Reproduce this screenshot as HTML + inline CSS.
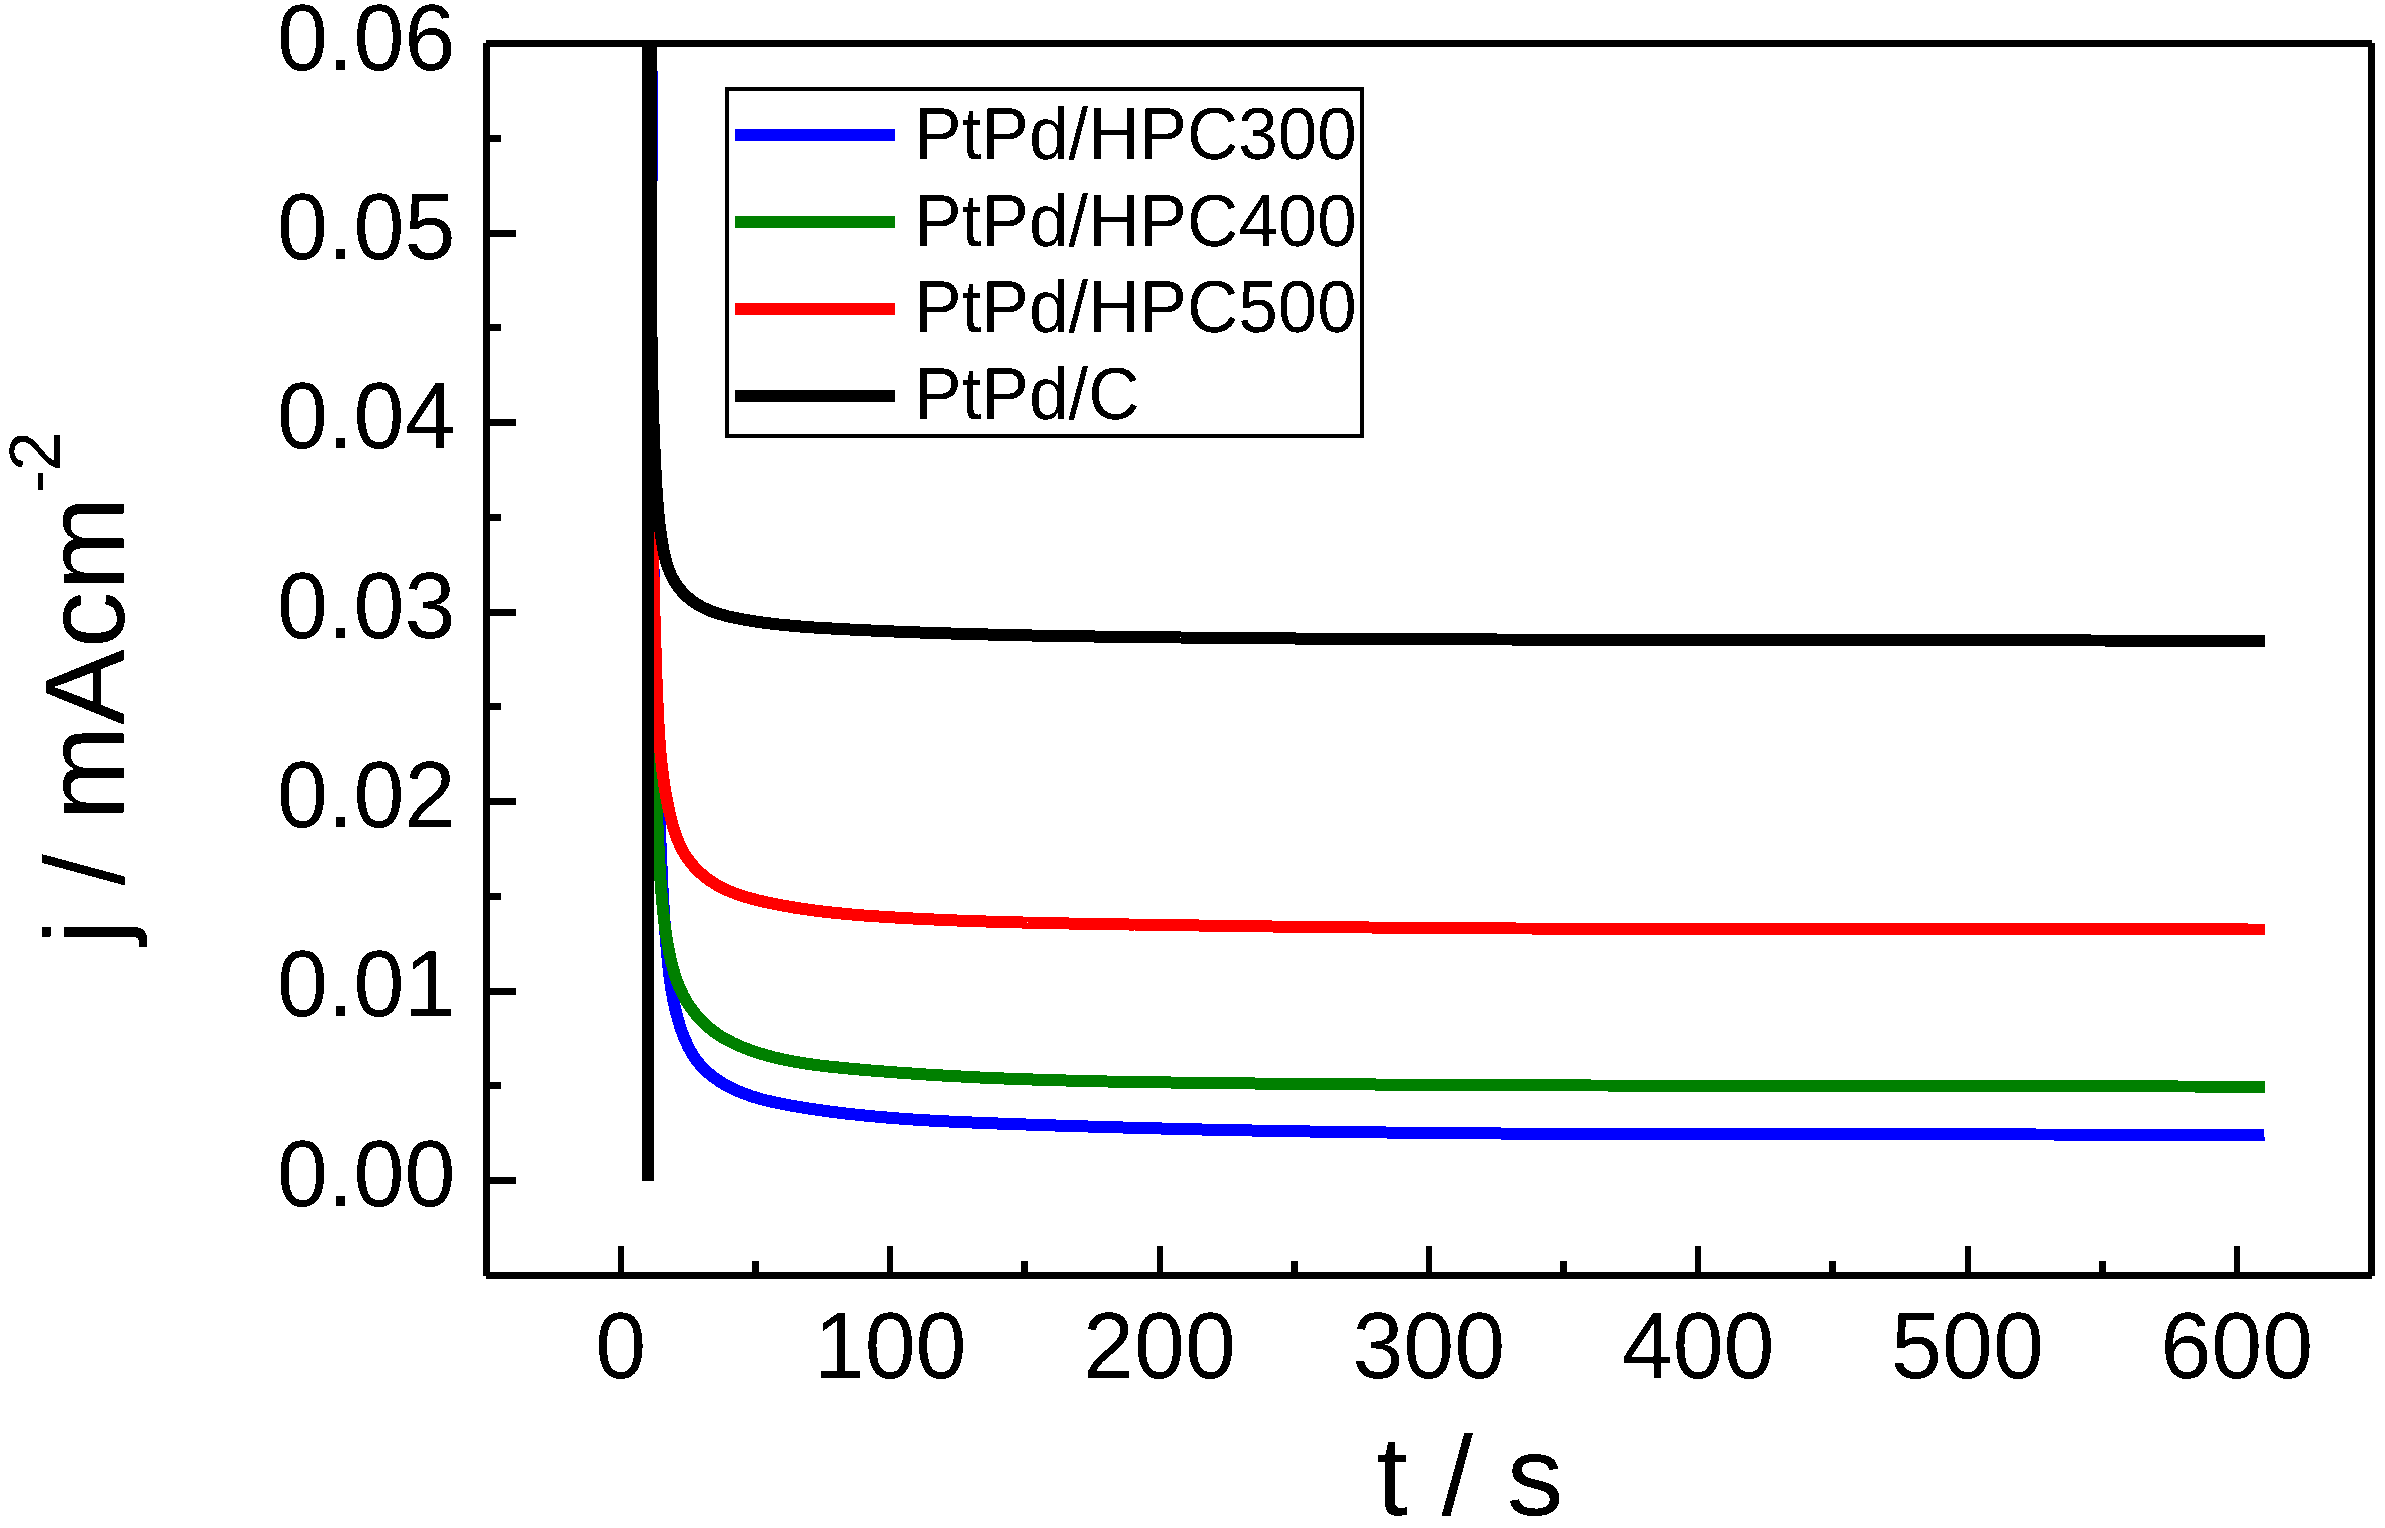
<!DOCTYPE html>
<html lang="en">
<head>
<meta charset="utf-8">
<title>Chronoamperometry curves</title>
<style>html,body{margin:0;padding:0;background:#fff}body{width:2385px;height:1528px;overflow:hidden}</style>
</head>
<body>
<svg width="2385" height="1528" viewBox="0 0 2385 1528" style="display:block" shape-rendering="crispEdges">
<rect width="2385" height="1528" fill="#fff"/>
<defs><clipPath id="plot"><rect x="490" y="40" width="1878" height="1232"/></clipPath><filter id="bw" x="-5%" y="-5%" width="110%" height="110%" color-interpolation-filters="sRGB"><feComponentTransfer><feFuncA type="discrete" tableValues="0 1"/></feComponentTransfer></filter></defs>
<g clip-path="url(#plot)" fill="none" stroke-width="12" stroke-linejoin="round" stroke-linecap="butt">
<path d="M650.4,30.0 L650.4,32.6 L650.4,35.2 L650.4,37.8 L650.4,40.4 L650.4,43.0 L650.4,45.6 L650.4,47.6 L650.4,48.2 L650.4,50.8 L650.4,53.4 L650.4,56.0 L650.4,58.6 L650.4,61.3 L650.4,63.9 L650.4,65.1 L650.4,66.5 L650.5,69.1 L650.5,71.7 L650.5,74.3 L650.5,76.9 L650.5,79.5 L650.5,82.1 L650.5,82.7 L650.5,84.7 L650.5,87.3 L650.5,89.9 L650.5,92.5 L650.5,95.1 L650.5,97.7 L650.5,100.2 L650.5,100.3 L650.5,102.9 L650.5,105.5 L650.5,108.1 L650.5,110.7 L650.5,113.3 L650.5,115.9 L650.5,117.8 L650.5,118.5 L650.5,121.1 L650.5,123.7 L650.5,126.3 L650.5,129.0 L650.5,131.6 L650.5,134.2 L650.5,135.4 L650.5,136.8 L650.5,139.4 L650.5,142.0 L650.5,144.6 L650.5,147.2 L650.5,149.8 L650.5,152.4 L650.5,152.9 L650.5,155.0 L650.5,157.6 L650.5,160.2 L650.5,162.8 L650.5,165.4 L650.5,168.0 L650.5,170.5 L650.5,170.6 L650.5,173.2 L650.5,175.8 L650.5,178.4 L650.6,181.0 L650.6,183.7 L650.6,186.3 L650.6,188.1 L650.6,188.9 L650.6,191.5 L650.6,194.1 L650.6,196.7 L650.6,199.3 L650.6,201.9 L650.6,204.5 L650.6,205.6 L650.6,207.1 L650.6,209.7 L650.6,212.3 L650.6,214.9 L650.6,217.5 L650.6,220.1 L650.6,222.7 L650.6,223.2 L650.6,225.3 L650.6,227.9 L650.7,230.5 L650.7,233.1 L650.7,235.8 L650.7,238.4 L650.7,240.8 L650.7,241.0 L650.7,243.6 L650.7,246.2 L650.7,248.8 L650.7,251.4 L650.7,254.0 L650.7,256.6 L650.7,258.3 L650.7,259.2 L650.7,261.8 L650.8,264.4 L650.8,267.0 L650.8,269.6 L650.8,272.2 L650.8,274.8 L650.8,275.9 L650.8,277.4 L650.8,280.0 L650.8,282.7 L650.8,285.3 L650.8,287.9 L650.8,290.5 L650.9,293.1 L650.9,293.5 L650.9,295.7 L650.9,298.3 L650.9,300.9 L650.9,303.5 L650.9,306.1 L650.9,308.7 L650.9,311.1 L650.9,311.3 L651.0,313.9 L651.0,316.5 L651.0,319.1 L651.0,321.7 L651.0,324.3 L651.0,327.0 L651.0,328.6 L651.0,329.6 L651.0,332.2 L651.1,334.8 L651.1,337.4 L651.1,340.0 L651.1,342.6 L651.1,345.2 L651.1,346.2 L651.1,347.8 L651.1,350.4 L651.2,353.0 L651.2,355.6 L651.2,358.2 L651.2,360.8 L651.2,363.4 L651.2,363.8 L651.2,366.0 L651.3,368.6 L651.3,371.3 L651.3,373.9 L651.3,376.5 L651.3,379.1 L651.3,381.4 L651.4,381.7 L651.4,384.3 L651.4,386.9 L651.4,389.5 L651.4,392.1 L651.4,394.7 L651.5,397.3 L651.5,398.9 L651.5,399.9 L651.5,402.5 L651.5,405.1 L651.5,407.7 L651.6,410.3 L651.6,413.0 L651.6,415.6 L651.6,416.5 L651.6,418.2 L651.7,420.8 L651.7,423.4 L651.7,426.0 L651.7,428.6 L651.8,431.2 L651.8,433.8 L651.8,434.1 L651.8,436.4 L651.8,439.0 L651.8,441.6 L651.9,444.2 L651.9,446.8 L651.9,449.4 L651.9,451.7 L652.0,452.0 L652.0,454.6 L652.0,457.3 L652.0,459.9 L652.1,462.5 L652.1,465.1 L652.1,467.7 L652.1,469.2 L652.1,470.3 L652.2,472.9 L652.2,475.5 L652.2,478.1 L652.3,480.7 L652.3,483.3 L652.3,485.9 L652.3,486.8 L652.4,488.5 L652.4,491.1 L652.4,493.7 L652.4,496.3 L652.5,498.9 L652.5,501.6 L652.5,504.2 L652.5,504.4 L652.6,506.8 L652.6,509.4 L652.6,512.0 L652.7,514.6 L652.7,517.2 L652.7,519.8 L652.8,521.9 L652.8,522.4 L652.8,525.0 L652.9,527.6 L652.9,530.2 L652.9,532.8 L653.0,535.4 L653.0,538.0 L653.0,539.5 L653.0,540.6 L653.1,543.2 L653.1,545.8 L653.2,548.5 L653.2,551.1 L653.2,553.7 L653.3,556.3 L653.3,557.1 L653.3,558.9 L653.4,561.5 L653.4,564.1 L653.4,566.7 L653.5,569.3 L653.5,571.9 L653.6,574.5 L653.6,574.7 L653.6,577.1 L653.7,579.7 L653.7,582.3 L653.7,584.9 L653.8,587.5 L653.8,590.1 L653.9,592.2 L653.9,592.7 L653.9,595.3 L654.0,598.0 L654.0,600.6 L654.1,603.2 L654.1,605.8 L654.2,608.4 L654.2,609.8 L654.2,611.0 L654.3,613.6 L654.3,616.2 L654.4,618.8 L654.4,621.4 L654.5,624.0 L654.5,626.6 L654.5,627.4 L654.6,629.2 L654.6,631.8 L654.7,634.4 L654.7,637.0 L654.8,639.6 L654.8,642.2 L654.9,644.8 L654.9,644.9 L654.9,647.4 L655.0,650.0 L655.1,652.7 L655.1,655.3 L655.2,657.9 L655.2,660.5 L655.3,662.5 L655.3,663.1 L655.3,665.7 L655.4,668.3 L655.5,670.9 L655.5,673.5 L655.6,676.1 L655.6,678.7 L655.7,680.1 L655.7,681.3 L655.8,683.9 L655.8,686.5 L655.9,689.1 L655.9,691.7 L656.0,694.3 L656.1,696.9 L656.1,697.6 L656.1,699.5 L656.2,702.1 L656.3,704.7 L656.3,707.3 L656.4,709.9 L656.5,712.5 L656.5,715.1 L656.5,715.2 L656.6,717.8 L656.7,720.4 L656.7,723.0 L656.8,725.6 L656.9,728.2 L657.0,730.8 L657.0,732.7 L657.0,733.4 L657.1,736.0 L657.2,738.6 L657.2,741.2 L657.3,743.8 L657.4,746.4 L657.5,749.0 L657.5,750.3 L657.5,751.6 L657.6,754.2 L657.7,756.8 L657.8,759.4 L657.8,762.0 L657.9,764.6 L658.0,767.2 L658.0,767.8 L658.1,769.8 L658.2,772.4 L658.2,775.0 L658.3,777.6 L658.4,780.2 L658.5,782.8 L658.6,785.4 L658.6,785.4 L658.6,788.0 L658.7,790.6 L658.8,793.2 L658.9,795.8 L659.0,798.4 L659.1,801.0 L659.1,802.9 L659.1,803.6 L659.2,806.3 L659.3,808.9 L659.4,811.5 L659.5,814.1 L659.6,816.7 L659.7,819.3 L659.7,820.5 L659.8,821.9 L659.9,824.5 L659.9,827.1 L660.0,829.7 L660.1,832.3 L660.2,834.9 L660.3,837.5 L660.3,838.0 L660.4,840.1 L660.5,842.7 L660.6,845.3 L660.7,847.9 L660.8,850.5 L660.9,853.1 L661.0,855.6 L661.0,855.7 L661.1,858.3 L661.2,860.9 L661.3,863.5 L661.5,866.1 L661.6,868.7 L661.7,871.3 L661.8,873.1 L661.8,873.9 L661.9,876.5 L662.1,879.1 L662.2,881.7 L662.3,884.3 L662.4,886.9 L662.6,889.5 L662.6,890.7 L662.7,892.1 L662.9,894.7 L663.0,897.3 L663.1,899.9 L663.3,902.5 L663.5,905.1 L663.6,907.7 L663.6,908.2 L663.8,910.3 L663.9,912.9 L664.1,915.5 L664.3,918.1 L664.5,920.7 L664.6,923.3 L664.8,925.7 L664.8,925.9 L665.0,928.5 L665.2,931.1 L665.4,933.7 L665.6,936.3 L665.8,938.9 L666.0,941.5 L666.2,943.3 L666.3,944.1 L666.5,946.7 L666.7,949.3 L666.9,951.9 L667.2,954.5 L667.4,957.1 L667.7,959.7 L667.8,960.8 L667.9,962.3 L668.2,964.9 L668.5,967.5 L668.8,970.1 L669.1,972.7 L669.4,975.3 L669.7,977.9 L669.8,978.3 L670.1,980.5 L670.4,983.1 L670.8,985.6 L671.2,988.2 L671.6,990.8 L672.1,993.3 L672.5,995.7 L672.5,995.9 L673.0,998.5 L673.5,1001.0 L674.0,1003.6 L674.6,1006.1 L675.2,1008.6 L675.8,1011.2 L676.2,1012.8 L676.4,1013.7 L677.1,1016.2 L677.8,1018.7 L678.5,1021.2 L679.3,1023.7 L680.0,1026.2 L680.9,1028.7 L681.2,1029.7 L681.7,1031.1 L682.6,1033.6 L683.6,1036.0 L684.5,1038.5 L685.6,1040.9 L686.6,1043.2 L687.7,1045.6 L687.9,1045.9 L688.9,1047.9 L690.1,1050.2 L691.4,1052.5 L692.7,1054.7 L694.1,1056.8 L695.6,1059.0 L696.9,1060.8 L697.1,1061.1 L698.7,1063.1 L700.4,1065.1 L702.1,1067.0 L703.9,1068.8 L705.8,1070.6 L707.7,1072.4 L708.9,1073.5 L709.7,1074.1 L711.7,1075.7 L713.8,1077.3 L715.9,1078.8 L718.0,1080.3 L720.2,1081.8 L722.5,1083.1 L723.3,1083.6 L724.7,1084.5 L727.0,1085.7 L729.3,1087.0 L731.6,1088.1 L734.0,1089.3 L736.3,1090.4 L738.7,1091.4 L739.0,1091.5 L741.1,1092.4 L743.5,1093.3 L745.9,1094.3 L748.4,1095.1 L750.8,1096.0 L753.3,1096.8 L755.4,1097.4 L755.8,1097.5 L758.3,1098.3 L760.8,1099.0 L763.3,1099.7 L765.8,1100.3 L768.3,1100.9 L770.9,1101.5 L772.4,1101.9 L773.4,1102.1 L776.0,1102.7 L778.5,1103.2 L781.1,1103.7 L783.7,1104.2 L786.2,1104.7 L788.8,1105.2 L789.7,1105.4 L791.4,1105.7 L794.0,1106.1 L796.5,1106.5 L799.1,1107.0 L801.7,1107.4 L804.3,1107.8 L806.9,1108.2 L807.1,1108.3 L809.5,1108.6 L812.0,1109.0 L814.6,1109.4 L817.2,1109.8 L819.8,1110.2 L822.4,1110.5 L824.5,1110.8 L825.0,1110.9 L827.5,1111.2 L830.1,1111.6 L832.7,1111.9 L835.3,1112.2 L837.9,1112.6 L840.5,1112.9 L842.0,1113.1 L843.1,1113.2 L845.7,1113.5 L848.2,1113.8 L850.8,1114.1 L853.4,1114.4 L856.0,1114.6 L858.6,1114.9 L859.4,1115.0 L861.2,1115.2 L863.8,1115.4 L866.4,1115.7 L869.0,1116.0 L871.6,1116.2 L874.2,1116.4 L876.8,1116.7 L876.9,1116.7 L879.3,1116.9 L881.9,1117.1 L884.5,1117.3 L887.1,1117.6 L889.7,1117.8 L892.3,1118.0 L894.4,1118.1 L894.9,1118.2 L897.5,1118.4 L900.1,1118.6 L902.7,1118.8 L905.3,1118.9 L907.9,1119.1 L910.5,1119.3 L912.0,1119.4 L913.1,1119.5 L915.7,1119.6 L918.3,1119.8 L920.9,1120.0 L923.5,1120.1 L926.1,1120.3 L928.7,1120.4 L929.5,1120.5 L931.3,1120.6 L933.9,1120.7 L936.5,1120.8 L939.1,1121.0 L941.7,1121.1 L944.3,1121.2 L946.9,1121.4 L947.0,1121.4 L964.6,1122.2 L982.1,1122.9 L999.7,1123.6 L1017.2,1124.2 L1034.8,1124.8 L1052.3,1125.4 L1069.9,1126.0 L1087.4,1126.5 L1105.0,1127.0 L1122.6,1127.5 L1140.1,1128.0 L1157.7,1128.4 L1175.2,1128.9 L1192.8,1129.3 L1210.4,1129.7 L1227.9,1130.0 L1245.5,1130.4 L1263.1,1130.7 L1280.6,1131.0 L1298.2,1131.3 L1315.7,1131.6 L1333.3,1131.8 L1350.9,1132.0 L1368.4,1132.3 L1386.0,1132.5 L1403.6,1132.7 L1421.2,1132.8 L1438.7,1133.0 L1456.3,1133.2 L1473.9,1133.3 L1491.4,1133.4 L1509.0,1133.6 L1526.6,1133.7 L1544.1,1133.8 L1561.7,1133.8 L1579.3,1133.9 L1596.9,1134.0 L1614.4,1134.0 L1632.0,1134.1 L1649.6,1134.1 L1667.1,1134.2 L1684.7,1134.2 L1702.3,1134.2 L1719.9,1134.3 L1737.4,1134.3 L1755.0,1134.3 L1772.6,1134.3 L1790.2,1134.3 L1807.7,1134.3 L1825.3,1134.3 L1842.9,1134.3 L1860.4,1134.3 L1878.0,1134.3 L1895.6,1134.4 L1913.2,1134.4 L1930.7,1134.4 L1948.3,1134.4 L1965.9,1134.4 L1983.4,1134.4 L2001.0,1134.4 L2018.6,1134.4 L2036.1,1134.5 L2053.7,1134.5 L2071.3,1134.5 L2088.8,1134.6 L2106.4,1134.6 L2124.0,1134.7 L2141.5,1134.8 L2159.1,1134.9 L2176.7,1134.9 L2194.2,1135.0 L2211.8,1135.1 L2229.4,1135.3 L2246.9,1135.4 L2264.5,1135.3" stroke="#0000ff"/>
<path d="M650.5,30.0 L650.5,32.6 L650.5,35.2 L650.5,37.8 L650.5,40.4 L650.4,43.0 L650.4,45.7 L650.4,47.3 L650.4,48.3 L650.4,50.9 L650.4,53.5 L650.4,56.1 L650.4,58.7 L650.4,61.3 L650.4,63.9 L650.4,64.6 L650.4,66.5 L650.4,69.1 L650.3,71.7 L650.3,74.3 L650.3,76.9 L650.3,79.6 L650.3,81.9 L650.3,82.2 L650.3,84.8 L650.3,87.4 L650.3,90.0 L650.3,92.6 L650.3,95.2 L650.3,97.8 L650.3,99.2 L650.3,100.4 L650.2,103.0 L650.2,105.6 L650.2,108.2 L650.2,110.8 L650.2,113.4 L650.2,116.1 L650.2,116.5 L650.2,118.7 L650.2,121.3 L650.2,123.9 L650.2,126.5 L650.2,129.1 L650.2,131.7 L650.2,133.7 L650.2,134.3 L650.2,136.9 L650.2,139.5 L650.2,142.1 L650.2,144.7 L650.1,147.3 L650.1,149.9 L650.1,151.0 L650.1,152.5 L650.1,155.1 L650.1,157.8 L650.1,160.4 L650.1,163.0 L650.1,165.6 L650.1,168.2 L650.1,168.3 L650.1,170.8 L650.1,173.4 L650.1,176.0 L650.1,178.6 L650.1,181.2 L650.1,183.8 L650.1,185.6 L650.1,186.4 L650.1,189.0 L650.1,191.6 L650.1,194.2 L650.1,196.8 L650.1,199.4 L650.1,202.0 L650.1,202.9 L650.1,204.7 L650.1,207.3 L650.1,209.9 L650.1,212.5 L650.1,215.1 L650.1,217.7 L650.1,220.1 L650.1,220.3 L650.1,222.9 L650.1,225.5 L650.1,228.1 L650.1,230.7 L650.1,233.3 L650.1,235.9 L650.1,237.4 L650.1,238.5 L650.1,241.1 L650.1,243.7 L650.1,246.3 L650.1,248.9 L650.1,251.5 L650.1,254.1 L650.1,254.7 L650.1,256.7 L650.1,259.3 L650.1,262.0 L650.1,264.6 L650.1,267.2 L650.1,269.8 L650.1,271.9 L650.1,272.4 L650.1,275.0 L650.1,277.6 L650.1,280.2 L650.1,282.8 L650.1,285.4 L650.1,288.0 L650.1,289.2 L650.1,290.6 L650.1,293.2 L650.1,295.8 L650.1,298.4 L650.2,301.0 L650.2,303.6 L650.2,306.2 L650.2,306.5 L650.2,308.8 L650.2,311.4 L650.2,314.0 L650.2,316.6 L650.2,319.2 L650.2,321.8 L650.2,323.7 L650.2,324.4 L650.2,327.1 L650.2,329.7 L650.2,332.3 L650.2,334.9 L650.3,337.5 L650.3,340.1 L650.3,341.0 L650.3,342.7 L650.3,345.3 L650.3,347.9 L650.3,350.5 L650.3,353.1 L650.3,355.7 L650.3,358.3 L650.3,358.3 L650.3,360.9 L650.4,363.5 L650.4,366.1 L650.4,368.7 L650.4,371.3 L650.4,373.9 L650.4,375.5 L650.4,376.5 L650.4,379.1 L650.4,381.7 L650.4,384.3 L650.5,386.9 L650.5,389.5 L650.5,392.1 L650.5,392.8 L650.5,394.7 L650.5,397.3 L650.5,400.0 L650.5,402.6 L650.6,405.2 L650.6,407.8 L650.6,410.1 L650.6,410.4 L650.6,413.0 L650.6,415.6 L650.6,418.2 L650.6,420.8 L650.7,423.4 L650.7,426.0 L650.7,427.3 L650.7,428.6 L650.7,431.2 L650.7,433.8 L650.7,436.4 L650.8,439.0 L650.8,441.6 L650.8,444.2 L650.8,444.6 L650.8,446.8 L650.8,449.4 L650.9,452.0 L650.9,454.6 L650.9,457.2 L650.9,459.8 L650.9,461.9 L650.9,462.4 L651.0,465.0 L651.0,467.7 L651.0,470.3 L651.0,472.9 L651.0,475.5 L651.1,478.1 L651.1,479.1 L651.1,480.7 L651.1,483.3 L651.1,485.9 L651.2,488.5 L651.2,491.1 L651.2,493.7 L651.2,496.3 L651.2,496.4 L651.3,498.9 L651.3,501.5 L651.3,504.1 L651.3,506.7 L651.4,509.3 L651.4,511.9 L651.4,513.7 L651.4,514.5 L651.4,517.1 L651.5,519.7 L651.5,522.3 L651.5,524.9 L651.5,527.5 L651.6,530.2 L651.6,530.9 L651.6,532.8 L651.6,535.4 L651.6,538.0 L651.7,540.6 L651.7,543.2 L651.7,545.8 L651.8,548.2 L651.8,548.4 L651.8,551.0 L651.8,553.6 L651.9,556.2 L651.9,558.8 L651.9,561.4 L651.9,564.0 L652.0,565.5 L652.0,566.6 L652.0,569.2 L652.0,571.8 L652.1,574.4 L652.1,577.0 L652.1,579.6 L652.2,582.2 L652.2,582.7 L652.2,584.9 L652.2,587.5 L652.3,590.1 L652.3,592.7 L652.3,595.3 L652.4,597.9 L652.4,600.0 L652.4,600.5 L652.5,603.1 L652.5,605.7 L652.5,608.3 L652.6,610.9 L652.6,613.5 L652.6,616.1 L652.7,617.3 L652.7,618.7 L652.7,621.3 L652.8,623.9 L652.8,626.5 L652.8,629.2 L652.9,631.8 L652.9,634.4 L652.9,634.6 L653.0,637.0 L653.0,639.6 L653.0,642.2 L653.1,644.8 L653.1,647.4 L653.2,650.0 L653.2,651.9 L653.2,652.6 L653.2,655.2 L653.3,657.8 L653.3,660.4 L653.4,663.0 L653.4,665.6 L653.5,668.2 L653.5,669.1 L653.5,670.9 L653.6,673.5 L653.6,676.1 L653.6,678.7 L653.7,681.3 L653.7,683.9 L653.8,686.4 L653.8,686.5 L653.8,689.1 L653.9,691.7 L653.9,694.3 L654.0,696.9 L654.0,699.5 L654.1,702.1 L654.1,703.7 L654.1,704.8 L654.2,707.4 L654.2,710.0 L654.3,712.6 L654.3,715.2 L654.4,717.8 L654.4,720.4 L654.4,721.0 L654.5,723.0 L654.5,725.6 L654.6,728.2 L654.6,730.8 L654.7,733.4 L654.8,736.0 L654.8,738.3 L654.8,738.7 L654.9,741.3 L654.9,743.9 L655.0,746.5 L655.1,749.1 L655.1,751.7 L655.2,754.3 L655.2,755.6 L655.3,756.9 L655.3,759.5 L655.4,762.1 L655.5,764.7 L655.5,767.3 L655.6,769.9 L655.7,772.5 L655.7,772.9 L655.7,775.2 L655.8,777.8 L655.9,780.4 L656.0,783.0 L656.1,785.6 L656.1,788.2 L656.2,790.2 L656.2,790.8 L656.3,793.4 L656.4,796.0 L656.5,798.6 L656.6,801.2 L656.7,803.8 L656.8,806.4 L656.8,807.4 L656.9,809.0 L657.0,811.6 L657.1,814.2 L657.2,816.8 L657.3,819.4 L657.4,822.0 L657.5,824.6 L657.5,824.7 L657.6,827.2 L657.7,829.8 L657.8,832.4 L658.0,835.0 L658.1,837.6 L658.2,840.2 L658.3,841.9 L658.3,842.8 L658.5,845.4 L658.6,848.0 L658.7,850.6 L658.9,853.2 L659.0,855.8 L659.2,858.4 L659.2,859.1 L659.3,860.9 L659.5,863.5 L659.6,866.1 L659.8,868.7 L659.9,871.3 L660.1,873.9 L660.2,876.3 L660.2,876.5 L660.4,879.1 L660.6,881.7 L660.8,884.3 L661.0,886.8 L661.2,889.4 L661.4,892.0 L661.5,893.4 L661.6,894.6 L661.8,897.2 L662.0,899.8 L662.3,902.4 L662.5,905.0 L662.8,907.6 L663.0,910.1 L663.1,910.6 L663.3,912.7 L663.6,915.3 L663.9,917.9 L664.2,920.5 L664.5,923.1 L664.9,925.7 L665.1,927.8 L665.2,928.3 L665.6,930.9 L665.9,933.5 L666.3,936.0 L666.7,938.6 L667.2,941.2 L667.6,943.8 L667.8,945.0 L668.1,946.4 L668.5,949.0 L669.0,951.6 L669.6,954.2 L670.1,956.8 L670.7,959.3 L671.3,961.9 L671.3,962.1 L671.9,964.4 L672.6,967.0 L673.3,969.5 L674.0,972.0 L674.8,974.5 L675.6,977.0 L676.2,978.7 L676.4,979.5 L677.3,981.9 L678.3,984.3 L679.2,986.7 L680.3,989.1 L681.3,991.5 L682.5,993.8 L682.8,994.6 L683.6,996.1 L684.9,998.4 L686.1,1000.6 L687.5,1002.8 L688.9,1005.0 L690.3,1007.1 L691.8,1009.2 L691.8,1009.2 L693.4,1011.3 L695.0,1013.4 L696.6,1015.3 L698.3,1017.3 L700.0,1019.2 L701.8,1021.1 L702.9,1022.2 L703.7,1022.9 L705.5,1024.7 L707.5,1026.4 L709.4,1028.1 L711.4,1029.7 L713.5,1031.3 L715.6,1032.8 L716.1,1033.1 L717.7,1034.3 L719.9,1035.7 L722.1,1037.1 L724.4,1038.4 L726.6,1039.7 L728.9,1040.9 L730.9,1041.9 L731.3,1042.1 L733.6,1043.3 L736.0,1044.4 L738.4,1045.5 L740.8,1046.5 L743.2,1047.5 L745.7,1048.5 L746.9,1048.9 L748.1,1049.4 L750.6,1050.3 L753.1,1051.2 L755.6,1052.0 L758.0,1052.8 L760.5,1053.6 L763.0,1054.3 L763.3,1054.4 L765.5,1055.1 L768.0,1055.8 L770.6,1056.4 L773.1,1057.1 L775.6,1057.7 L778.1,1058.3 L780.0,1058.8 L780.7,1058.9 L783.2,1059.5 L785.7,1060.0 L788.3,1060.5 L790.8,1061.0 L793.4,1061.5 L796.0,1062.0 L796.9,1062.1 L798.5,1062.4 L801.1,1062.8 L803.7,1063.2 L806.2,1063.6 L808.8,1064.0 L811.4,1064.4 L814.0,1064.7 L814.0,1064.7 L816.5,1065.1 L819.1,1065.4 L821.7,1065.7 L824.3,1066.0 L826.9,1066.3 L829.5,1066.6 L831.1,1066.8 L832.1,1066.9 L834.7,1067.2 L837.3,1067.4 L839.9,1067.7 L842.5,1067.9 L845.1,1068.2 L847.6,1068.4 L848.4,1068.5 L850.2,1068.7 L852.8,1068.9 L855.4,1069.1 L858.0,1069.4 L860.6,1069.6 L863.2,1069.8 L865.6,1070.0 L865.8,1070.0 L868.4,1070.3 L871.0,1070.5 L873.6,1070.7 L876.2,1070.9 L878.8,1071.1 L881.4,1071.3 L882.8,1071.4 L884.0,1071.5 L886.6,1071.7 L889.2,1071.9 L891.8,1072.1 L894.4,1072.3 L897.0,1072.5 L899.6,1072.7 L900.0,1072.7 L902.2,1072.9 L904.8,1073.1 L907.4,1073.3 L910.0,1073.4 L912.6,1073.6 L915.2,1073.8 L917.3,1073.9 L917.8,1074.0 L920.4,1074.1 L923.0,1074.3 L925.6,1074.5 L928.2,1074.6 L930.8,1074.8 L933.4,1075.0 L934.5,1075.0 L936.0,1075.1 L938.6,1075.3 L941.2,1075.4 L943.8,1075.6 L946.4,1075.7 L949.0,1075.9 L951.6,1076.0 L951.8,1076.0 L954.2,1076.2 L956.8,1076.3 L959.4,1076.4 L962.0,1076.6 L964.6,1076.7 L967.2,1076.8 L969.0,1076.9 L969.8,1077.0 L972.4,1077.1 L975.0,1077.2 L977.6,1077.3 L980.2,1077.5 L982.9,1077.6 L985.5,1077.7 L986.3,1077.7 L988.1,1077.8 L990.7,1077.9 L1003.5,1078.5 L1020.8,1079.1 L1038.1,1079.7 L1055.3,1080.2 L1072.6,1080.7 L1089.8,1081.1 L1107.1,1081.5 L1124.4,1081.8 L1141.7,1082.1 L1158.9,1082.3 L1176.2,1082.6 L1193.5,1082.8 L1210.7,1083.0 L1228.0,1083.2 L1245.3,1083.4 L1262.6,1083.6 L1279.8,1083.7 L1297.1,1083.9 L1314.4,1084.0 L1331.7,1084.2 L1348.9,1084.3 L1366.2,1084.4 L1383.5,1084.6 L1400.7,1084.7 L1418.0,1084.8 L1435.3,1084.9 L1452.6,1085.0 L1469.8,1085.0 L1487.1,1085.1 L1504.4,1085.2 L1521.7,1085.3 L1538.9,1085.3 L1556.2,1085.4 L1573.5,1085.4 L1590.8,1085.5 L1608.0,1085.5 L1625.3,1085.6 L1642.6,1085.6 L1659.9,1085.6 L1677.2,1085.7 L1694.4,1085.7 L1711.7,1085.7 L1729.0,1085.7 L1746.3,1085.8 L1763.5,1085.8 L1780.8,1085.8 L1798.1,1085.8 L1815.4,1085.8 L1832.6,1085.8 L1849.9,1085.9 L1867.2,1085.9 L1884.5,1085.9 L1901.7,1085.9 L1919.0,1085.9 L1936.3,1085.9 L1953.6,1086.0 L1970.8,1086.0 L1988.1,1086.0 L2005.4,1086.0 L2022.7,1086.1 L2039.9,1086.1 L2057.2,1086.1 L2074.5,1086.2 L2091.8,1086.2 L2109.0,1086.2 L2126.3,1086.3 L2143.6,1086.3 L2160.9,1086.4 L2178.1,1086.5 L2195.4,1086.5 L2212.7,1086.6 L2230.0,1086.7 L2247.2,1086.8 L2264.5,1086.8" stroke="#008000"/>
<path d="M650.5,30.0 L650.5,32.6 L650.5,35.2 L650.5,37.8 L650.5,40.4 L650.5,43.0 L650.5,45.6 L650.5,46.3 L650.6,48.2 L650.6,50.8 L650.6,53.4 L650.6,56.0 L650.6,58.6 L650.6,61.2 L650.6,62.5 L650.6,63.9 L650.6,66.5 L650.6,69.1 L650.6,71.7 L650.7,74.3 L650.7,76.9 L650.7,78.8 L650.7,79.5 L650.7,82.1 L650.7,84.7 L650.7,87.3 L650.7,89.9 L650.7,92.5 L650.7,95.1 L650.7,95.1 L650.7,97.7 L650.7,100.3 L650.7,102.9 L650.7,105.5 L650.7,108.1 L650.7,110.7 L650.7,111.3 L650.7,113.3 L650.7,115.9 L650.7,118.5 L650.7,121.1 L650.8,123.8 L650.8,126.4 L650.8,127.6 L650.8,129.0 L650.8,131.6 L650.8,134.2 L650.8,136.8 L650.8,139.4 L650.8,142.0 L650.8,143.9 L650.8,144.6 L650.8,147.2 L650.8,149.8 L650.8,152.4 L650.8,155.0 L650.8,157.6 L650.8,160.2 L650.8,160.2 L650.8,162.8 L650.8,165.4 L650.8,168.0 L650.8,170.6 L650.8,173.2 L650.8,175.9 L650.8,176.4 L650.8,178.5 L650.8,181.1 L650.8,183.7 L650.8,186.3 L650.8,188.9 L650.8,191.5 L650.8,192.7 L650.8,194.1 L650.8,196.7 L650.8,199.3 L650.8,201.9 L650.8,204.5 L650.8,207.1 L650.8,209.0 L650.8,209.7 L650.8,212.3 L650.8,214.9 L650.8,217.5 L650.8,220.1 L650.8,222.8 L650.8,225.3 L650.8,225.4 L650.8,228.0 L650.8,230.6 L650.8,233.2 L650.8,235.8 L650.8,238.4 L650.8,241.0 L650.8,241.5 L650.8,243.6 L650.8,246.2 L650.8,248.8 L650.8,251.4 L650.8,254.0 L650.8,256.6 L650.8,257.8 L650.8,259.2 L650.8,261.8 L650.8,264.4 L650.8,267.1 L650.8,269.7 L650.8,272.3 L650.8,274.1 L650.8,274.9 L650.8,277.5 L650.8,280.1 L650.8,282.7 L650.8,285.3 L650.8,287.9 L650.8,290.4 L650.8,290.5 L650.8,293.1 L650.8,295.7 L650.8,298.3 L650.8,300.9 L650.8,303.5 L650.8,306.1 L650.8,306.7 L650.8,308.7 L650.8,311.4 L650.8,314.0 L650.8,316.6 L650.8,319.2 L650.8,321.8 L650.8,322.9 L650.8,324.4 L650.8,327.0 L650.8,329.6 L650.8,332.2 L650.8,334.8 L650.8,337.4 L650.8,339.2 L650.8,340.0 L650.9,342.6 L650.9,345.2 L650.9,347.8 L650.9,350.4 L650.9,353.0 L650.9,355.5 L650.9,355.7 L650.9,358.3 L650.9,360.9 L650.9,363.5 L650.9,366.1 L650.9,368.7 L650.9,371.3 L650.9,371.8 L651.0,373.9 L651.0,376.5 L651.0,379.1 L651.0,381.7 L651.0,384.3 L651.0,386.9 L651.0,388.1 L651.0,389.5 L651.0,392.1 L651.1,394.7 L651.1,397.3 L651.1,399.9 L651.1,402.6 L651.1,404.3 L651.1,405.2 L651.1,407.8 L651.2,410.4 L651.2,413.0 L651.2,415.6 L651.2,418.2 L651.2,420.6 L651.2,420.8 L651.2,423.4 L651.3,426.0 L651.3,428.6 L651.3,431.2 L651.3,433.8 L651.3,436.4 L651.4,436.9 L651.4,439.0 L651.4,441.6 L651.4,444.2 L651.4,446.8 L651.5,449.5 L651.5,452.1 L651.5,453.2 L651.5,454.7 L651.5,457.3 L651.6,459.9 L651.6,462.5 L651.6,465.1 L651.7,467.7 L651.7,469.4 L651.7,470.3 L651.7,472.9 L651.7,475.5 L651.8,478.1 L651.8,480.7 L651.8,483.3 L651.9,485.7 L651.9,485.9 L651.9,488.5 L651.9,491.1 L652.0,493.7 L652.0,496.3 L652.0,499.0 L652.1,501.6 L652.1,502.0 L652.1,504.2 L652.2,506.8 L652.2,509.4 L652.2,512.0 L652.3,514.6 L652.3,517.2 L652.3,518.3 L652.4,519.8 L652.4,522.4 L652.4,525.0 L652.5,527.6 L652.5,530.2 L652.6,532.8 L652.6,534.5 L652.6,535.4 L652.7,538.0 L652.7,540.6 L652.8,543.2 L652.8,545.8 L652.9,548.4 L652.9,550.8 L652.9,551.1 L653.0,553.7 L653.0,556.3 L653.1,558.9 L653.1,561.5 L653.2,564.1 L653.2,566.7 L653.2,567.1 L653.3,569.3 L653.4,571.9 L653.4,574.5 L653.5,577.1 L653.5,579.7 L653.6,582.3 L653.6,583.3 L653.7,584.9 L653.7,587.5 L653.8,590.1 L653.8,592.7 L653.9,595.3 L654.0,597.9 L654.0,599.6 L654.0,600.5 L654.1,603.1 L654.2,605.7 L654.3,608.3 L654.3,610.9 L654.4,613.5 L654.5,615.9 L654.5,616.2 L654.5,618.8 L654.6,621.4 L654.7,624.0 L654.8,626.6 L654.8,629.2 L654.9,631.8 L654.9,632.1 L655.0,634.4 L655.1,637.0 L655.2,639.6 L655.3,642.2 L655.3,644.8 L655.4,647.4 L655.5,648.4 L655.5,650.0 L655.6,652.6 L655.7,655.2 L655.8,657.8 L655.9,660.4 L656.0,663.0 L656.0,664.7 L656.0,665.6 L656.1,668.2 L656.2,670.8 L656.3,673.4 L656.4,676.0 L656.5,678.6 L656.6,680.9 L656.6,681.2 L656.7,683.8 L656.8,686.4 L656.9,689.0 L657.0,691.6 L657.1,694.2 L657.2,696.8 L657.2,697.2 L657.3,699.4 L657.4,702.0 L657.6,704.6 L657.7,707.2 L657.8,709.8 L657.9,712.4 L658.0,713.4 L658.0,715.0 L658.2,717.6 L658.3,720.2 L658.4,722.8 L658.6,725.4 L658.7,728.0 L658.8,729.7 L658.9,730.6 L659.0,733.2 L659.2,735.8 L659.4,738.4 L659.6,741.0 L659.8,743.6 L659.9,745.9 L660.0,746.2 L660.2,748.8 L660.4,751.4 L660.6,754.0 L660.9,756.6 L661.1,759.2 L661.4,761.8 L661.4,762.1 L661.7,764.4 L662.0,766.9 L662.3,769.5 L662.6,772.1 L662.9,774.7 L663.2,777.3 L663.4,778.2 L663.6,779.9 L664.0,782.5 L664.3,785.0 L664.7,787.6 L665.2,790.2 L665.6,792.8 L665.9,794.3 L666.0,795.3 L666.5,797.9 L667.0,800.5 L667.5,803.0 L668.0,805.6 L668.6,808.2 L669.0,810.4 L669.1,810.7 L669.7,813.3 L670.3,815.9 L670.9,818.4 L671.6,821.0 L672.2,823.5 L673.0,826.0 L673.0,826.3 L673.7,828.6 L674.5,831.1 L675.3,833.5 L676.2,836.0 L677.1,838.4 L678.1,840.9 L678.4,841.7 L679.1,843.2 L680.1,845.6 L681.3,847.9 L682.5,850.2 L683.7,852.5 L685.0,854.7 L685.9,856.0 L686.4,856.8 L687.9,859.0 L689.4,861.0 L691.0,863.1 L692.7,865.1 L694.4,867.0 L695.9,868.6 L696.1,868.9 L698.0,870.7 L699.8,872.5 L701.8,874.2 L703.7,875.9 L705.8,877.5 L707.8,879.1 L708.0,879.2 L709.9,880.6 L712.1,882.0 L714.2,883.4 L716.4,884.7 L718.7,886.0 L721.0,887.2 L721.7,887.6 L723.3,888.4 L725.6,889.5 L728.0,890.6 L730.3,891.6 L732.8,892.5 L735.2,893.5 L736.6,894.0 L737.6,894.4 L740.1,895.2 L742.6,896.0 L745.1,896.8 L747.6,897.5 L750.2,898.3 L752.3,898.8 L752.7,899.0 L755.3,899.6 L757.8,900.3 L760.4,900.9 L763.0,901.5 L765.5,902.0 L768.1,902.6 L768.3,902.7 L770.7,903.2 L773.3,903.7 L775.9,904.2 L778.4,904.7 L781.0,905.2 L783.6,905.7 L784.4,905.8 L786.2,906.1 L788.8,906.6 L791.3,907.0 L793.9,907.5 L796.5,907.9 L799.1,908.3 L800.6,908.5 L801.7,908.7 L804.2,909.1 L806.8,909.4 L809.4,909.8 L812.0,910.2 L814.6,910.5 L816.7,910.8 L817.1,910.8 L819.7,911.2 L822.3,911.5 L824.9,911.8 L827.5,912.1 L830.1,912.4 L832.6,912.6 L832.8,912.7 L835.2,912.9 L837.8,913.2 L840.4,913.4 L843.0,913.7 L845.6,913.9 L848.2,914.2 L849.0,914.2 L850.7,914.4 L853.3,914.6 L855.9,914.8 L858.5,915.0 L861.1,915.3 L863.7,915.5 L865.1,915.6 L866.3,915.6 L868.9,915.8 L871.4,916.0 L874.0,916.2 L876.6,916.4 L879.2,916.5 L881.3,916.7 L881.8,916.7 L884.4,916.9 L887.0,917.0 L889.6,917.2 L892.2,917.4 L894.8,917.5 L897.4,917.7 L897.5,917.7 L900.0,917.8 L902.5,918.0 L905.1,918.1 L907.7,918.3 L910.3,918.4 L912.9,918.5 L913.7,918.6 L915.5,918.7 L918.1,918.8 L920.7,918.9 L923.3,919.0 L925.9,919.2 L928.5,919.3 L930.0,919.4 L931.1,919.4 L933.7,919.5 L936.3,919.7 L938.9,919.8 L941.5,919.9 L944.1,920.0 L946.2,920.1 L946.7,920.1 L949.3,920.2 L951.9,920.3 L954.5,920.4 L957.1,920.5 L959.7,920.6 L962.3,920.7 L962.5,920.7 L964.9,920.8 L967.5,920.9 L970.1,921.0 L972.7,921.1 L975.4,921.2 L978.0,921.2 L978.7,921.3 L980.6,921.3 L983.2,921.4 L985.8,921.5 L988.4,921.6 L991.0,921.6 L993.6,921.7 L995.0,921.8 L996.2,921.8 L998.8,921.9 L1001.4,921.9 L1004.0,922.0 L1006.6,922.1 L1009.2,922.2 L1011.3,922.2 L1011.8,922.2 L1014.4,922.3 L1017.1,922.4 L1019.7,922.4 L1022.3,922.5 L1024.9,922.5 L1027.5,922.6 L1027.6,922.6 L1030.1,922.7 L1032.7,922.7 L1035.3,922.8 L1037.9,922.8 L1040.5,922.9 L1043.1,922.9 L1043.9,923.0 L1045.7,923.0 L1048.4,923.0 L1051.0,923.1 L1053.6,923.2 L1056.2,923.2 L1058.8,923.3 L1060.2,923.3 L1061.4,923.3 L1064.0,923.4 L1066.6,923.4 L1069.2,923.5 L1071.8,923.5 L1074.4,923.5 L1076.5,923.6 L1077.0,923.6 L1079.7,923.6 L1082.3,923.7 L1084.9,923.7 L1087.5,923.8 L1090.1,923.8 L1092.7,923.9 L1092.8,923.9 L1095.3,923.9 L1097.9,923.9 L1100.5,924.0 L1103.1,924.0 L1105.7,924.1 L1108.3,924.1 L1109.0,924.1 L1111.0,924.2 L1113.6,924.2 L1116.2,924.3 L1118.8,924.3 L1121.4,924.3 L1124.0,924.4 L1125.3,924.4 L1126.6,924.4 L1129.2,924.5 L1131.8,924.5 L1134.4,924.5 L1137.0,924.6 L1139.6,924.6 L1141.6,924.7 L1157.9,924.9 L1174.2,925.2 L1190.4,925.4 L1206.7,925.6 L1223.0,925.9 L1239.2,926.1 L1255.5,926.3 L1271.8,926.5 L1288.0,926.7 L1304.3,926.9 L1320.6,927.0 L1336.8,927.2 L1353.1,927.3 L1369.4,927.5 L1385.7,927.6 L1401.9,927.8 L1418.2,927.9 L1434.5,928.0 L1450.7,928.1 L1467.0,928.2 L1483.3,928.3 L1499.6,928.4 L1515.8,928.5 L1532.1,928.5 L1548.4,928.6 L1564.7,928.7 L1580.9,928.7 L1597.2,928.8 L1613.5,928.8 L1629.8,928.9 L1646.0,928.9 L1662.3,928.9 L1678.6,929.0 L1694.9,929.0 L1711.1,929.0 L1727.4,929.0 L1743.7,929.0 L1760.0,929.0 L1776.2,929.1 L1792.5,929.1 L1808.8,929.1 L1825.1,929.1 L1841.4,929.1 L1857.6,929.1 L1873.9,929.1 L1890.2,929.1 L1906.5,929.1 L1922.7,929.1 L1939.0,929.1 L1955.3,929.1 L1971.6,929.1 L1987.9,929.1 L2004.1,929.1 L2020.4,929.1 L2036.7,929.1 L2053.0,929.1 L2069.2,929.1 L2085.5,929.2 L2101.8,929.2 L2118.1,929.2 L2134.3,929.2 L2150.6,929.2 L2166.9,929.3 L2183.1,929.3 L2199.4,929.3 L2215.7,929.4 L2232.0,929.4 L2248.2,929.5 L2264.5,929.5" stroke="#ff0000"/>
<path d="M651.0,30.0 L651.0,32.6 L651.1,35.2 L651.1,37.8 L651.1,40.4 L651.1,43.0 L651.1,44.4 L651.1,45.6 L651.1,48.2 L651.2,50.8 L651.2,53.4 L651.2,56.0 L651.2,58.5 L651.2,58.8 L651.2,61.1 L651.2,63.7 L651.2,66.3 L651.2,68.9 L651.2,71.5 L651.2,73.3 L651.2,74.1 L651.2,76.7 L651.2,79.3 L651.2,81.9 L651.3,84.5 L651.3,87.1 L651.3,87.7 L651.3,89.7 L651.3,92.3 L651.3,94.9 L651.3,97.5 L651.3,100.1 L651.3,102.2 L651.3,102.7 L651.3,105.3 L651.3,108.0 L651.2,110.6 L651.2,113.2 L651.2,115.8 L651.2,116.7 L651.2,118.4 L651.2,121.0 L651.2,123.6 L651.2,126.2 L651.2,128.8 L651.2,131.1 L651.2,131.4 L651.2,134.0 L651.2,136.6 L651.2,139.2 L651.2,141.8 L651.2,144.4 L651.2,145.6 L651.2,147.0 L651.2,149.6 L651.2,152.2 L651.1,154.8 L651.1,157.5 L651.1,160.1 L651.1,160.1 L651.1,162.7 L651.1,165.3 L651.1,167.9 L651.1,170.5 L651.1,173.1 L651.1,174.6 L651.1,175.7 L651.1,178.3 L651.1,180.9 L651.1,183.5 L651.0,186.1 L651.0,188.8 L651.0,189.1 L651.0,191.4 L651.0,194.0 L651.0,196.6 L651.0,199.2 L651.0,201.8 L651.0,203.6 L651.0,204.4 L651.0,207.0 L651.0,209.6 L651.0,212.2 L651.0,214.8 L651.0,217.5 L651.0,218.1 L651.0,220.1 L651.0,222.7 L650.9,225.3 L650.9,227.9 L650.9,230.5 L650.9,232.6 L650.9,233.1 L650.9,235.7 L650.9,238.3 L650.9,240.9 L650.9,243.6 L650.9,246.2 L650.9,247.1 L650.9,248.8 L650.9,251.4 L650.9,254.0 L650.9,256.6 L650.9,259.2 L650.9,261.6 L650.9,261.8 L651.0,264.4 L651.0,267.0 L651.0,269.7 L651.0,272.3 L651.0,274.9 L651.0,276.1 L651.0,277.5 L651.0,280.1 L651.0,282.7 L651.0,285.3 L651.0,287.9 L651.0,290.5 L651.0,290.6 L651.1,293.1 L651.1,295.8 L651.1,298.4 L651.1,301.0 L651.1,303.6 L651.1,305.1 L651.1,306.2 L651.2,308.8 L651.2,311.4 L651.2,314.0 L651.2,316.6 L651.3,319.2 L651.3,319.6 L651.3,321.8 L651.3,324.5 L651.3,327.1 L651.4,329.7 L651.4,332.3 L651.4,334.1 L651.4,334.9 L651.5,337.5 L651.5,340.1 L651.5,342.7 L651.6,345.3 L651.6,347.9 L651.6,348.6 L651.7,350.5 L651.7,353.1 L651.7,355.7 L651.8,358.3 L651.8,361.0 L651.9,363.1 L651.9,363.6 L651.9,366.2 L652.0,368.8 L652.0,371.4 L652.1,374.0 L652.2,376.6 L652.2,377.6 L652.2,379.2 L652.3,381.8 L652.3,384.4 L652.4,387.0 L652.5,389.6 L652.5,392.1 L652.5,392.2 L652.6,394.8 L652.7,397.4 L652.7,400.0 L652.8,402.6 L652.9,405.2 L652.9,406.5 L653.0,407.8 L653.0,410.4 L653.1,413.0 L653.2,415.6 L653.3,418.2 L653.4,420.8 L653.4,421.0 L653.5,423.4 L653.6,426.0 L653.7,428.6 L653.8,431.2 L653.9,433.8 L653.9,435.4 L654.0,436.4 L654.1,439.0 L654.2,441.6 L654.3,444.2 L654.4,446.8 L654.5,449.4 L654.5,449.8 L654.6,452.0 L654.7,454.6 L654.8,457.2 L655.0,459.8 L655.1,462.4 L655.2,464.3 L655.2,465.0 L655.3,467.5 L655.5,470.1 L655.6,472.7 L655.7,475.3 L655.9,477.9 L655.9,478.7 L656.0,480.5 L656.2,483.1 L656.3,485.7 L656.5,488.3 L656.6,490.9 L656.8,493.1 L656.8,493.5 L657.0,496.1 L657.2,498.6 L657.4,501.2 L657.6,503.8 L657.8,506.4 L657.9,507.5 L658.0,509.0 L658.3,511.6 L658.5,514.2 L658.8,516.8 L659.0,519.4 L659.3,521.9 L659.3,522.0 L659.6,524.6 L659.9,527.2 L660.3,529.8 L660.6,532.5 L661.0,535.1 L661.2,536.4 L661.4,537.7 L661.8,540.3 L662.2,542.9 L662.6,545.5 L663.1,548.1 L663.6,550.7 L663.6,550.9 L664.1,553.3 L664.7,555.9 L665.4,558.5 L666.0,561.0 L666.8,563.5 L667.2,565.1 L667.5,566.0 L668.4,568.4 L669.3,570.8 L670.3,573.2 L671.3,575.6 L672.5,577.9 L672.7,578.3 L673.7,580.1 L675.0,582.3 L676.4,584.4 L677.9,586.5 L679.4,588.6 L680.7,590.1 L681.1,590.5 L682.8,592.5 L684.6,594.3 L686.4,596.1 L688.4,597.8 L690.3,599.4 L691.0,599.9 L692.4,601.0 L694.5,602.5 L696.6,603.9 L698.8,605.2 L701.1,606.5 L703.0,607.5 L703.3,607.7 L705.7,608.8 L708.0,609.8 L710.4,610.8 L712.8,611.8 L715.3,612.6 L716.3,613.0 L717.7,613.4 L720.2,614.2 L722.8,614.9 L725.3,615.6 L727.9,616.3 L730.4,616.9 L730.4,616.9 L733.0,617.4 L735.6,618.0 L738.2,618.5 L740.8,619.0 L743.4,619.5 L744.8,619.7 L746.0,619.9 L748.6,620.4 L751.3,620.8 L753.9,621.2 L756.5,621.6 L759.1,622.0 L759.3,622.0 L761.7,622.4 L764.3,622.7 L766.9,623.1 L769.5,623.4 L772.1,623.7 L773.8,623.9 L774.7,624.0 L777.2,624.3 L779.8,624.6 L782.4,624.9 L785.0,625.1 L787.6,625.4 L788.2,625.4 L790.2,625.6 L792.8,625.9 L795.4,626.1 L798.0,626.3 L800.6,626.5 L802.6,626.7 L803.2,626.7 L805.8,626.9 L808.4,627.1 L811.0,627.3 L813.5,627.5 L816.1,627.6 L817.0,627.7 L818.7,627.8 L821.3,628.0 L823.9,628.1 L826.5,628.3 L829.1,628.4 L831.4,628.5 L831.7,628.6 L834.3,628.7 L836.9,628.8 L839.5,629.0 L842.1,629.1 L844.6,629.2 L845.8,629.3 L847.2,629.4 L849.8,629.5 L852.4,629.6 L855.0,629.8 L857.6,629.9 L860.2,630.0 L860.2,630.0 L862.8,630.1 L865.4,630.3 L868.0,630.4 L870.6,630.5 L873.2,630.6 L874.6,630.7 L875.8,630.7 L878.4,630.8 L881.0,631.0 L883.6,631.1 L886.2,631.2 L888.8,631.3 L889.1,631.3 L891.4,631.4 L894.0,631.5 L896.6,631.6 L899.1,631.7 L901.7,631.8 L903.5,631.9 L904.3,631.9 L906.9,632.0 L909.5,632.1 L912.1,632.2 L914.7,632.3 L917.3,632.4 L917.9,632.4 L919.9,632.5 L922.5,632.6 L925.1,632.7 L927.7,632.8 L930.3,632.8 L932.4,632.9 L932.9,632.9 L935.5,633.0 L938.1,633.1 L940.7,633.2 L943.3,633.3 L945.9,633.3 L946.8,633.4 L948.5,633.4 L951.1,633.5 L953.7,633.6 L956.4,633.7 L959.0,633.7 L961.3,633.8 L961.6,633.8 L964.2,633.9 L966.8,634.0 L969.4,634.0 L972.0,634.1 L974.6,634.2 L975.8,634.2 L977.2,634.2 L979.8,634.3 L982.4,634.4 L985.0,634.4 L987.6,634.5 L990.2,634.6 L990.2,634.6 L992.8,634.6 L995.4,634.7 L998.0,634.7 L1000.6,634.8 L1003.2,634.9 L1004.7,634.9 L1005.8,634.9 L1008.4,635.0 L1011.0,635.0 L1013.6,635.1 L1016.2,635.1 L1018.8,635.2 L1019.2,635.2 L1021.5,635.3 L1024.1,635.3 L1026.7,635.4 L1029.3,635.4 L1031.9,635.5 L1033.7,635.5 L1034.5,635.5 L1037.1,635.6 L1039.7,635.6 L1042.3,635.7 L1044.9,635.7 L1047.5,635.7 L1048.2,635.8 L1050.1,635.8 L1052.7,635.8 L1055.3,635.9 L1057.9,635.9 L1060.5,636.0 L1062.6,636.0 L1063.2,636.0 L1065.8,636.0 L1068.4,636.1 L1071.0,636.1 L1073.6,636.2 L1076.2,636.2 L1077.1,636.2 L1078.8,636.2 L1081.4,636.3 L1084.0,636.3 L1086.6,636.4 L1089.2,636.4 L1091.6,636.4 L1091.8,636.4 L1094.4,636.5 L1097.0,636.5 L1099.7,636.5 L1102.3,636.6 L1104.9,636.6 L1106.1,636.6 L1107.5,636.6 L1110.1,636.7 L1112.7,636.7 L1115.3,636.7 L1117.9,636.8 L1120.5,636.8 L1120.6,636.8 L1123.1,636.8 L1125.7,636.9 L1128.3,636.9 L1130.9,636.9 L1133.5,637.0 L1135.1,637.0 L1136.2,637.0 L1138.8,637.0 L1141.4,637.0 L1144.0,637.1 L1146.6,637.1 L1149.2,637.1 L1149.6,637.1 L1151.8,637.2 L1154.4,637.2 L1157.0,637.2 L1159.6,637.2 L1162.2,637.3 L1164.1,637.3 L1164.8,637.3 L1167.4,637.3 L1170.0,637.4 L1172.7,637.4 L1175.3,637.4 L1177.9,637.4 L1178.6,637.4 L1180.5,637.5 L1183.1,637.5 L1185.7,637.5 L1188.3,637.5 L1190.9,637.6 L1193.1,637.6 L1193.5,637.6 L1196.1,637.6 L1198.7,637.6 L1201.3,637.7 L1203.9,637.7 L1206.5,637.7 L1207.6,637.7 L1209.2,637.7 L1211.8,637.8 L1214.4,637.8 L1217.0,637.8 L1219.6,637.8 L1222.0,637.9 L1222.2,637.9 L1224.8,637.9 L1227.4,637.9 L1230.0,637.9 L1232.6,638.0 L1235.2,638.0 L1236.5,638.0 L1237.8,638.0 L1240.4,638.0 L1243.0,638.0 L1245.6,638.1 L1248.3,638.1 L1250.9,638.1 L1251.0,638.1 L1253.5,638.1 L1256.1,638.2 L1258.7,638.2 L1261.3,638.2 L1263.9,638.2 L1265.5,638.2 L1266.5,638.2 L1269.1,638.3 L1271.7,638.3 L1274.3,638.3 L1276.9,638.3 L1279.5,638.3 L1280.0,638.3 L1282.1,638.4 L1284.7,638.4 L1287.3,638.4 L1290.0,638.4 L1292.6,638.4 L1294.5,638.4 L1295.2,638.5 L1297.8,638.5 L1300.4,638.5 L1303.0,638.5 L1305.6,638.5 L1308.2,638.5 L1308.9,638.5 L1310.8,638.6 L1313.4,638.6 L1316.0,638.6 L1318.6,638.6 L1321.2,638.6 L1323.4,638.6 L1323.8,638.6 L1326.4,638.7 L1329.0,638.7 L1331.6,638.7 L1334.3,638.7 L1336.9,638.7 L1337.9,638.7 L1339.5,638.7 L1342.1,638.8 L1344.7,638.8 L1347.3,638.8 L1349.9,638.8 L1352.4,638.8 L1352.5,638.8 L1355.1,638.8 L1357.7,638.9 L1360.3,638.9 L1362.9,638.9 L1365.5,638.9 L1366.9,638.9 L1368.1,638.9 L1370.7,638.9 L1373.3,638.9 L1375.9,639.0 L1378.5,639.0 L1381.2,639.0 L1381.4,639.0 L1383.8,639.0 L1386.4,639.0 L1389.0,639.0 L1391.6,639.0 L1394.2,639.1 L1395.8,639.1 L1396.8,639.1 L1399.4,639.1 L1402.0,639.1 L1404.6,639.1 L1407.2,639.1 L1410.3,639.1 L1424.8,639.2 L1439.3,639.3 L1453.7,639.3 L1468.2,639.4 L1482.7,639.4 L1497.2,639.5 L1511.7,639.5 L1526.1,639.6 L1540.6,639.6 L1555.1,639.7 L1569.6,639.7 L1584.0,639.7 L1598.5,639.8 L1613.0,639.8 L1627.5,639.8 L1641.9,639.9 L1656.4,639.9 L1670.9,639.9 L1685.4,639.9 L1699.8,640.0 L1714.3,640.0 L1728.8,640.0 L1743.3,640.0 L1757.7,640.0 L1772.2,640.0 L1786.7,640.1 L1801.1,640.1 L1815.6,640.1 L1830.1,640.1 L1844.6,640.1 L1859.0,640.1 L1873.5,640.1 L1888.0,640.2 L1902.5,640.2 L1917.0,640.2 L1931.4,640.2 L1945.9,640.2 L1960.4,640.2 L1974.9,640.3 L1989.3,640.3 L2003.8,640.3 L2018.3,640.3 L2032.8,640.3 L2047.3,640.4 L2061.7,640.4 L2076.2,640.4 L2090.7,640.5 L2105.2,640.5 L2119.7,640.5 L2134.1,640.6 L2148.6,640.6 L2163.1,640.7 L2177.6,640.7 L2192.1,640.8 L2206.6,640.8 L2221.1,640.9 L2235.5,640.9 L2250.0,641.0 L2264.5,641.0" stroke="#000000"/>
<path d="M648,1181 L648,30" stroke="#000"/>
<rect x="657" y="71" width="1" height="110" fill="#0000ff" stroke="none"/>
</g>
<g fill="#000">
<rect x="486" y="40" width="1886" height="7"/>
<rect x="486" y="1272" width="1886" height="7"/>
<rect x="483" y="43" width="7" height="1233"/>
<rect x="2368" y="43" width="7" height="1233"/>
<rect x="490" y="230" width="26" height="7"/>
<rect x="490" y="419" width="26" height="7"/>
<rect x="490" y="609" width="26" height="7"/>
<rect x="490" y="798" width="26" height="7"/>
<rect x="490" y="988" width="26" height="7"/>
<rect x="490" y="1177" width="26" height="7"/>
<rect x="490" y="135" width="11" height="7"/>
<rect x="490" y="324" width="11" height="7"/>
<rect x="490" y="514" width="11" height="7"/>
<rect x="490" y="703" width="11" height="7"/>
<rect x="490" y="893" width="11" height="7"/>
<rect x="490" y="1082" width="11" height="7"/>
<rect x="618" y="1246" width="6" height="26"/>
<rect x="887" y="1246" width="6" height="26"/>
<rect x="1157" y="1246" width="6" height="26"/>
<rect x="1426" y="1246" width="6" height="26"/>
<rect x="1695" y="1246" width="6" height="26"/>
<rect x="1965" y="1246" width="6" height="26"/>
<rect x="2234" y="1246" width="6" height="26"/>
<rect x="752" y="1261" width="7" height="11"/>
<rect x="1021" y="1261" width="7" height="11"/>
<rect x="1291" y="1261" width="7" height="11"/>
<rect x="1560" y="1261" width="7" height="11"/>
<rect x="1829" y="1261" width="7" height="11"/>
<rect x="2099" y="1261" width="7" height="11"/>
</g>
<g font-family="'Liberation Sans', sans-serif" font-size="91.6" fill="#000" text-rendering="geometricPrecision" filter="url(#bw)">
<text transform="translate(455.4,69.6) scale(1,1.028)" text-anchor="end">0.06</text>
<text transform="translate(455.4,259.0) scale(1,1.028)" text-anchor="end">0.05</text>
<text transform="translate(455.4,448.3) scale(1,1.028)" text-anchor="end">0.04</text>
<text transform="translate(455.4,637.7) scale(1,1.028)" text-anchor="end">0.03</text>
<text transform="translate(455.4,827.1) scale(1,1.028)" text-anchor="end">0.02</text>
<text transform="translate(455.4,1016.5) scale(1,1.028)" text-anchor="end">0.01</text>
<text transform="translate(455.4,1205.8) scale(1,1.028)" text-anchor="end">0.00</text>
<text transform="translate(620.8,1378.3) scale(1,1.028)" text-anchor="middle">0</text>
<text transform="translate(890.1,1378.3) scale(1,1.028)" text-anchor="middle">100</text>
<text transform="translate(1159.5,1378.3) scale(1,1.028)" text-anchor="middle">200</text>
<text transform="translate(1428.8,1378.3) scale(1,1.028)" text-anchor="middle">300</text>
<text transform="translate(1698.1,1378.3) scale(1,1.028)" text-anchor="middle">400</text>
<text transform="translate(1967.5,1378.3) scale(1,1.028)" text-anchor="middle">500</text>
<text transform="translate(2236.8,1378.3) scale(1,1.028)" text-anchor="middle">600</text>
</g>
<g font-family="'Liberation Sans', sans-serif" fill="#000" text-rendering="geometricPrecision" filter="url(#bw)">
<text x="1376.2" y="1515.2" font-size="113.5" word-spacing="2.2">t / s</text>
<text transform="translate(123.7,944.3) rotate(-90)" font-size="113.5" letter-spacing="0.97">j / mAcm<tspan font-size="72.5" dy="-63.8" dx="1.7">-</tspan><tspan font-size="72.5" dx="-3.2">2</tspan></text>
</g>
<rect x="727" y="89" width="635" height="347" fill="#fff" stroke="#000" stroke-width="4"/>
<g font-family="'Liberation Sans', sans-serif" font-size="71.1" fill="#000" text-rendering="geometricPrecision" filter="url(#bw)">
<rect x="735" y="129" width="160" height="12" fill="#0000ff"/>
<text transform="translate(914.3,159.0) scale(1,1.04)">PtPd/HPC300</text>
<rect x="735" y="216" width="160" height="12" fill="#008000"/>
<text transform="translate(914.3,245.7) scale(1,1.04)">PtPd/HPC400</text>
<rect x="735" y="303" width="160" height="12" fill="#ff0000"/>
<text transform="translate(914.3,332.3) scale(1,1.04)">PtPd/HPC500</text>
<rect x="735" y="390" width="160" height="12" fill="#000000"/>
<text transform="translate(914.3,419.0) scale(1,1.04)">PtPd/C</text>
</g>
</svg>
</body>
</html>
